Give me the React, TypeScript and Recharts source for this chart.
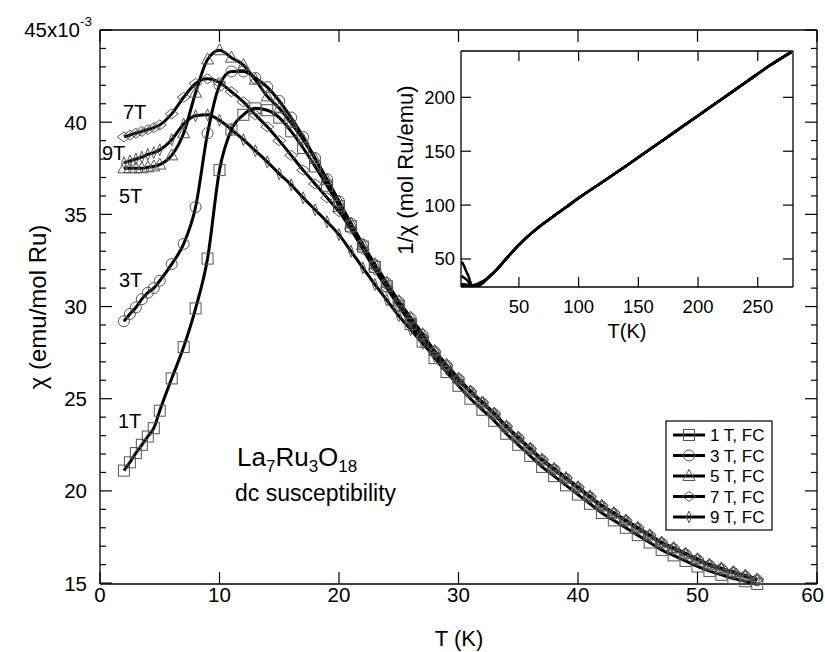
import React from 'react';
import { ComposedChart, LineChart, Line, Scatter, XAxis, YAxis } from 'recharts';

const FONT = '"Liberation Sans", Arial, Helvetica, sans-serif';

// temperatures (K) of the measured points, shared by every field
const TEMPS = [2, 2.5, 3, 3.5, 4, 4.5, 5, 6, 7, 8, 9, 10, 11, 12, 13, 14, 15, 16, 17, 18, 19, 20, 21, 22, 23, 24, 25, 26, 27, 28, 29, 30, 31, 32, 33, 34, 35, 36, 37, 38, 39, 40, 41, 42, 43, 44, 45, 46, 47, 48, 49, 50, 51, 52, 53, 54, 55];

// chi in units of 1e-3 emu/mol Ru
const CHI_1T = [21.1, 21.55, 22.05, 22.5, 22.95, 23.4, 24.35, 26.1, 27.8, 29.9, 32.6, 37.4, 39.6, 40.4, 40.75, 40.65, 40.25, 39.5, 38.6, 37.6, 36.55, 35.45, 34.35, 33.25, 32.15, 31.1, 30.05, 29.05, 28.1, 27.2, 26.45, 25.7, 25.0, 24.4, 23.8, 23.1, 22.5, 21.9, 21.3, 20.8, 20.3, 19.8, 19.3, 18.8, 18.4, 18.0, 17.6, 17.2, 16.8, 16.5, 16.2, 15.9, 15.65, 15.45, 15.25, 15.1, 14.95];
const CHI_3T = [29.2, 29.6, 29.95, 30.4, 30.75, 31.0, 31.4, 32.3, 33.4, 35.4, 39.4, 42.0, 42.75, 42.75, 42.4, 41.9, 41.15, 40.25, 39.2, 38.05, 36.9, 35.7, 34.5, 33.35, 32.25, 31.25, 30.25, 29.35, 28.45, 27.55, 26.8, 26.05, 25.35, 24.75, 24.15, 23.45, 22.85, 22.25, 21.65, 21.15, 20.65, 20.15, 19.65, 19.15, 18.75, 18.35, 17.95, 17.55, 17.15, 16.85, 16.55, 16.25, 15.95, 15.75, 15.55, 15.35, 15.15];
const CHI_5T = [37.5, 37.5, 37.5, 37.5, 37.55, 37.6, 37.7, 38.2, 39.4, 41.6, 43.4, 43.9, 43.5, 43.1, 42.3, 41.4, 40.75, 39.95, 39.05, 38.0, 36.85, 35.7, 34.5, 33.35, 32.3, 31.3, 30.3, 29.4, 28.5, 27.6, 26.85, 26.1, 25.4, 24.8, 24.2, 23.5, 22.9, 22.3, 21.7, 21.2, 20.7, 20.2, 19.7, 19.2, 18.8, 18.4, 18.0, 17.6, 17.2, 16.9, 16.6, 16.3, 16.0, 15.8, 15.6, 15.4, 15.2];
const CHI_7T = [39.2, 39.3, 39.4, 39.5, 39.6, 39.7, 39.85, 40.45, 41.35, 42.1, 42.35, 42.15, 41.65, 41.1, 40.4, 39.75, 39.0, 38.2, 37.4, 36.65, 35.9, 35.15, 34.2, 33.1, 32.0, 31.0, 30.05, 29.2, 28.35, 27.55, 26.8, 26.1, 25.4, 24.8, 24.2, 23.5, 22.9, 22.3, 21.7, 21.2, 20.7, 20.2, 19.7, 19.2, 18.8, 18.4, 18.0, 17.6, 17.2, 16.9, 16.6, 16.3, 16.0, 15.8, 15.6, 15.4, 15.2];
const CHI_9T = [37.8, 37.9, 38.0, 38.1, 38.25, 38.35, 38.5, 39.05, 39.9, 40.35, 40.4, 40.1, 39.6, 39.05, 38.45, 37.85, 37.2, 36.6, 35.9, 35.25, 34.6, 33.9, 33.0, 32.1, 31.2, 30.35, 29.5, 28.75, 28.0, 27.3, 26.6, 25.95, 25.4, 24.8, 24.2, 23.5, 22.9, 22.3, 21.7, 21.2, 20.7, 20.2, 19.7, 19.2, 18.8, 18.4, 18.0, 17.6, 17.2, 16.9, 16.6, 16.3, 16.0, 15.8, 15.6, 15.4, 15.2];

const X_TICKS = [0, 10, 20, 30, 40, 50, 60];
const Y_TICKS = [15, 16, 17, 18, 19, 20, 21, 22, 23, 24, 25, 26, 27, 28, 29, 30, 31, 32, 33, 34, 35, 36, 37, 38, 39, 40, 41, 42, 43, 44, 45];

// inset: 1/chi (mol Ru/emu) against T
const INSET_T_LOW = [2, 4, 6, 8, 10, 12, 14, 16, 18, 20];
const INV_1T_LOW = [47.4, 43.6, 38.3, 33.4, 26.7, 24.8, 24.6, 25.3, 26.6, 28.2];
const INV_3T_LOW = [34.2, 32.5, 31.0, 28.2, 23.8, 23.4, 23.9, 24.9, 26.3, 28.0];
const INV_5T_LOW = [26.7, 26.6, 26.2, 24.0, 22.8, 23.2, 24.2, 25.0, 26.3, 28.0];
const INV_7T_LOW = [25.5, 25.2, 24.7, 23.7, 23.7, 24.3, 25.2, 26.2, 27.3, 28.5];
const INV_9T_LOW = [26.5, 26.1, 25.6, 24.8, 24.9, 25.6, 26.4, 27.4, 28.5, 29.5];
const INSET_T_HIGH = [25, 30, 40, 50, 60, 70, 80, 90, 100, 120, 140, 160, 180, 200, 220, 240, 260, 278];
const INV_HIGH = [33.4, 38.5, 51, 63, 73.5, 82.5, 90.5, 98.5, 106.5, 121.5, 136.5, 152, 167.5, 183, 198.5, 214, 229.5, 242];

const INSET_X_TICKS = [50, 100, 150, 200, 250];
const INSET_Y_TICKS = [50, 100, 150, 200];

type MarkerKind = 'square' | 'circle' | 'triangle' | 'diamond' | 'thin';

const SERIES: { name: string; chi: number[]; inv: number[]; marker: MarkerKind }[] = [
  { name: '1 T, FC', chi: CHI_1T, inv: INV_1T_LOW, marker: 'square' },
  { name: '3 T, FC', chi: CHI_3T, inv: INV_3T_LOW, marker: 'circle' },
  { name: '5 T, FC', chi: CHI_5T, inv: INV_5T_LOW, marker: 'triangle' },
  { name: '7 T, FC', chi: CHI_7T, inv: INV_7T_LOW, marker: 'diamond' },
  { name: '9 T, FC', chi: CHI_9T, inv: INV_9T_LOW, marker: 'thin' },
];

const MARKER_STROKE = '#555';
const TICK_FONT = 20.5;

function Marker({ kind, cx, cy }: { kind: MarkerKind; cx: number; cy: number }) {
  const common = { fill: 'none', stroke: MARKER_STROKE, strokeWidth: 1 };
  switch (kind) {
    case 'square':
      return <rect x={cx - 5.5} y={cy - 5.5} width={11} height={11} {...common} />;
    case 'circle':
      return <circle cx={cx} cy={cy} r={5.5} {...common} />;
    case 'triangle':
      return <polygon points={`${cx},${cy - 6.5} ${cx - 6},${cy + 4.5} ${cx + 6},${cy + 4.5}`} {...common} />;
    case 'diamond':
      return <polygon points={`${cx},${cy - 5} ${cx + 6.5},${cy} ${cx},${cy + 5} ${cx - 6.5},${cy}`} {...common} />;
    default:
      return <polygon points={`${cx},${cy - 6} ${cx + 2.5},${cy} ${cx},${cy + 6} ${cx - 2.5},${cy}`} {...common} />;
  }
}

const AXIS_LINE = { stroke: '#000', strokeWidth: 1.3 };
const TICK_STROKE = { stroke: '#000', strokeWidth: 1.2 };

// main chart ticks (all pointing inward); axes are 1px thick so they get drawn
const BottomTick = (props: any) => {
  const { x, y, payload } = props;
  const last = payload.value === 60;
  return (
    <g>
      <line x1={x} x2={x} y1={y} y2={y - 12} {...TICK_STROKE} />
      <text
        x={last ? 824 : x}
        y={y + 18}
        textAnchor={last ? 'end' : 'middle'}
        fontSize={TICK_FONT}
        fontFamily={FONT}
        fill="#000"
      >
        {payload.value}
      </text>
    </g>
  );
};

const TopTick = (props: any) => {
  const { x, y } = props;
  return <line x1={x} x2={x} y1={y} y2={y + 12} {...TICK_STROKE} />;
};

const LEFT_MARGIN = 13;
const LeftTick = (props: any) => {
  const { x, y, payload } = props;
  const ax = x + LEFT_MARGIN;
  const major = payload.value % 5 === 0;
  return (
    <g>
      <line x1={ax} x2={ax + (major ? 12 : 6)} y1={y} y2={y} {...TICK_STROKE} />
      {major && payload.value < 45 && (
        <text x={x} y={y + 7.5} textAnchor="end" fontSize={TICK_FONT} fontFamily={FONT} fill="#000">
          {payload.value}
        </text>
      )}
    </g>
  );
};

const RightTick = (props: any) => {
  const { x, y, payload } = props;
  const major = payload.value % 5 === 0;
  return <line x1={x} x2={x - (major ? 12 : 6)} y1={y} y2={y} {...TICK_STROKE} />;
};

// inset ticks
const InsetBottomTick = (props: any) => {
  const { x, y, payload } = props;
  return (
    <g>
      <line x1={x} x2={x} y1={y} y2={y - 10} {...TICK_STROKE} />
      <text x={x} y={y + 26} textAnchor="middle" fontSize={18.5} fontFamily={FONT} fill="#000">
        {payload.value}
      </text>
    </g>
  );
};
const InsetTopTick = (props: any) => {
  const { x, y } = props;
  return <line x1={x} x2={x} y1={y} y2={y + 10} {...TICK_STROKE} />;
};
const INSET_LEFT_MARGIN = 6;
const InsetLeftTick = (props: any) => {
  const { x, y, payload } = props;
  const ax = x + INSET_LEFT_MARGIN;
  return (
    <g>
      <line x1={ax} x2={ax + 10} y1={y} y2={y} {...TICK_STROKE} />
      <text x={x} y={y + 6.5} textAnchor="end" fontSize={18.5} fontFamily={FONT} fill="#000">
        {payload.value}
      </text>
    </g>
  );
};
const InsetRightTick = (props: any) => {
  const { x, y } = props;
  return <line x1={x} x2={x - 10} y1={y} y2={y} {...TICK_STROKE} />;
};

const axisCommon = {
  type: 'number' as const,
  interval: 0 as const,
  tickSize: 0,
  axisLine: AXIS_LINE,
  tickLine: false,
};

export default function App() {
  const mainData = SERIES.map((s) => TEMPS.map((t, i) => ({ t, chi: s.chi[i] })));
  const insetT = [...INSET_T_LOW, ...INSET_T_HIGH];
  const insetData = SERIES.map((s) => {
    const vals = [...s.inv, ...INV_HIGH];
    return insetT.map((t, i) => ({ t, inv: vals[i] }));
  });

  return (
    <div style={{ position: 'relative', width: 825, height: 652, background: '#fff', fontFamily: FONT }}>
      <style>{'body{margin:0;background:#fff}'}</style>

      <div style={{ position: 'absolute', left: 0, top: 0 }}>
        <ComposedChart width={825} height={652} margin={{ top: 29, right: 7, bottom: 67, left: 99 }}>
          <XAxis {...axisCommon} xAxisId="b" dataKey="t" domain={[0, 60]} ticks={X_TICKS} height={1} tickMargin={0} tick={BottomTick} />
          <XAxis {...axisCommon} xAxisId="t" orientation="top" dataKey="t" domain={[0, 60]} ticks={X_TICKS} height={1} tickMargin={0} tick={TopTick} />
          <YAxis {...axisCommon} yAxisId="l" domain={[15, 45]} ticks={Y_TICKS} width={1} tickMargin={LEFT_MARGIN} tick={LeftTick} />
          <YAxis {...axisCommon} yAxisId="r" orientation="right" domain={[15, 45]} ticks={Y_TICKS} width={1} tickMargin={0} tick={RightTick} />
          {SERIES.map((s, k) => (
            <Scatter
              key={`m${k}`}
              data={mainData[k]}
              dataKey="chi"
              xAxisId="b"
              yAxisId="l"
              isAnimationActive={false}
              shape={(p: any) => <Marker kind={s.marker} cx={p.cx} cy={p.cy} />}
            />
          ))}
          {SERIES.map((s, k) => (
            <Line
              key={`l${k}`}
              data={mainData[k]}
              dataKey="chi"
              xAxisId="b"
              yAxisId="l"
              type="monotone"
              stroke="#000"
              strokeWidth={3}
              dot={false}
              activeDot={false}
              isAnimationActive={false}
            />
          ))}
          {/* invisible series so the top/right axes have data */}
          <Line data={mainData[0]} dataKey="chi" xAxisId="t" yAxisId="r" stroke="none" dot={false} activeDot={false} isAnimationActive={false} />
        </ComposedChart>
      </div>

      <div style={{ position: 'absolute', left: 380, top: 0 }}>
        <LineChart width={445} height={350} margin={{ top: 50, right: 31, bottom: 62, left: 80 }}>
          <XAxis {...axisCommon} xAxisId="b" dataKey="t" domain={[1.5, 279.5]} ticks={INSET_X_TICKS} height={1} tickMargin={0} tick={InsetBottomTick} allowDataOverflow />
          <XAxis {...axisCommon} xAxisId="t" orientation="top" dataKey="t" domain={[1.5, 279.5]} ticks={INSET_X_TICKS} height={1} tickMargin={0} tick={InsetTopTick} allowDataOverflow />
          <YAxis {...axisCommon} yAxisId="l" domain={[24, 243]} ticks={INSET_Y_TICKS} width={1} tickMargin={INSET_LEFT_MARGIN} tick={InsetLeftTick} allowDataOverflow />
          <YAxis {...axisCommon} yAxisId="r" orientation="right" domain={[24, 243]} ticks={INSET_Y_TICKS} width={1} tickMargin={0} tick={InsetRightTick} allowDataOverflow />
          {SERIES.map((s, k) => (
            <Line
              key={`i${k}`}
              data={insetData[k]}
              dataKey="inv"
              xAxisId="b"
              yAxisId="l"
              type="monotone"
              stroke="#000"
              strokeWidth={2.5}
              dot={false}
              activeDot={false}
              isAnimationActive={false}
            />
          ))}
          <Line data={insetData[0]} dataKey="inv" xAxisId="t" yAxisId="r" stroke="none" dot={false} activeDot={false} isAnimationActive={false} />
        </LineChart>
      </div>

      <svg width={825} height={652} style={{ position: 'absolute', left: 0, top: 0, pointerEvents: 'none' }} fontFamily={FONT}>
        {/* top y label with exponent */}
        <text x={80} y={37} textAnchor="end" fontSize={TICK_FONT} fill="#000">45x10</text>
        <text x={80} y={26} fontSize={13.5} fill="#000">-3</text>

        {/* axis titles */}
        <text x={459} y={646} textAnchor="middle" fontSize={22} fill="#000">T (K)</text>
        <text x={46} y={307} textAnchor="middle" fontSize={24} fill="#000" transform="rotate(-90 46 307)">
          χ (emu/mol Ru)
        </text>
        <text x={627} y={338} textAnchor="middle" fontSize={20} fill="#000">T(K)</text>
        <text x={413} y={170} textAnchor="middle" fontSize={22} fill="#000" transform="rotate(-90 413 170)">
          1/χ (mol Ru/emu)
        </text>

        {/* field labels */}
        <text x={123} y={119} fontSize={20} fill="#000">7T</text>
        <text x={102} y={160} fontSize={20} fill="#000">9T</text>
        <text x={119} y={203} fontSize={20} fill="#000">5T</text>
        <text x={119} y={287} fontSize={20} fill="#000">3T</text>
        <text x={118} y={428} fontSize={20} fill="#000">1T</text>

        {/* compound */}
        <text x={237} y={466} fontSize={26} fill="#000">
          La<tspan fontSize={17} dy={6}>7</tspan>
          <tspan fontSize={26} dy={-6}>Ru</tspan>
          <tspan fontSize={17} dy={6}>3</tspan>
          <tspan fontSize={26} dy={-6}>O</tspan>
          <tspan fontSize={17} dy={6}>18</tspan>
        </text>
        <text x={235} y={501} fontSize={23} fill="#000">dc susceptibility</text>

        {/* legend */}
        <rect x={666} y={421} width={106} height={109} fill="#fff" stroke="#000" strokeWidth={1.2} />
        {SERIES.map((s, k) => {
          const cy = 435 + k * 20.5;
          return (
            <g key={s.name}>
              <line x1={673} x2={705} y1={cy} y2={cy} stroke="#000" strokeWidth={3} />
              <Marker kind={s.marker} cx={689} cy={cy} />
              <text x={710} y={cy + 6} fontSize={17} fill="#000">{s.name}</text>
            </g>
          );
        })}
      </svg>
    </div>
  );
}
